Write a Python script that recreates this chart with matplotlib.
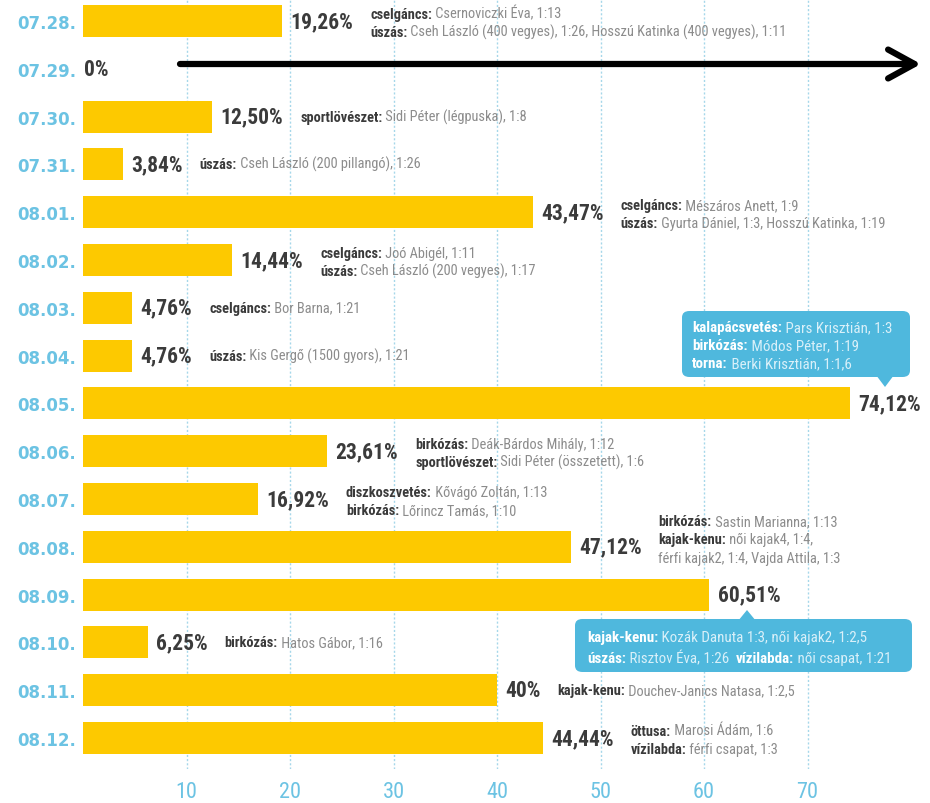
import matplotlib
matplotlib.use('Agg')
import matplotlib.pyplot as plt
from matplotlib.patches import FancyBboxPatch, Polygon

# ---------------- data ----------------
dates = ['07.28.', '07.29.', '07.30.', '07.31.', '08.01.', '08.02.', '08.03.', '08.04.',
         '08.05.', '08.06.', '08.07.', '08.08.', '08.09.', '08.10.', '08.11.', '08.12.']
values = [19.26, 0, 12.50, 3.84, 43.47, 14.44, 4.76, 4.76,
          74.12, 23.61, 16.92, 47.12, 60.51, 6.25, 40, 44.44]
value_labels = ['19,26%', '0%', '12,50%', '3,84%', '43,47%', '14,44%', '4,76%', '4,76%',
                '74,12%', '23,61%', '16,92%', '47,12%', '60,51%', '6,25%', '40%', '44,44%']
medal_notes = [
    ['**cselgáncs:** Csernoviczki Éva, 1:13',
     '**úszás:** Cseh László (400 vegyes), 1:26, Hosszú Katinka (400 vegyes), 1:11'],
    [],
    ['**sportlövészet:** Sidi Péter (légpuska), 1:8'],
    ['**úszás:** Cseh László (200 pillangó), 1:26'],
    ['**cselgáncs:** Mészáros Anett, 1:9',
     '**úszás:** Gyurta Dániel, 1:3, Hosszú Katinka, 1:19'],
    ['**cselgáncs:** Joó Abigél, 1:11',
     '**úszás:** Cseh László (200 vegyes), 1:17'],
    ['**cselgáncs:** Bor Barna, 1:21'],
    ['**úszás:** Kis Gergő (1500 gyors), 1:21'],
    [],
    ['**birkózás:** Deák-Bárdos Mihály, 1:12',
     '**sportlövészet:** Sidi Péter (összetett), 1:6'],
    ['**diszkoszvetés:** Kővágó Zoltán, 1:13',
     '**birkózás:** Lőrincz Tamás, 1:10'],
    ['**birkózás:** Sastin Marianna, 1:13',
     '**kajak-kenu:** női kajak4, 1:4,',
     'férfi kajak2, 1:4, Vajda Attila, 1:3'],
    [],
    ['**birkózás:** Hatos Gábor, 1:16'],
    ['**kajak-kenu:** Douchev-Janics Natasa, 1:2,5'],
    ['**öttusa:** Marosi Ádám, 1:6',
     '**vízilabda:** férfi csapat, 1:3'],
]
callout_0805 = ['**kalapácsvetés:** Pars Krisztián, 1:3',
                '**birkózás:** Módos Péter, 1:19',
                '**torna:** Berki Krisztián, 1:1,6']
callout_0809 = ['**kajak-kenu:** Kozák Danuta 1:3, női kajak2, 1:2,5',
                '**úszás:** Risztov Éva, 1:26  **vízilabda:** női csapat, 1:21']
x_ticks = [10, 20, 30, 40, 50, 60, 70]

# ---------------- style ----------------
W, H = 930, 804
BAR = '#fdc900'
BLUE = '#6cc3e3'
GRID = '#a6d7ea'
CALL = '#4fb8dd'
VAL_C = '#3b3b3b'
BOLD_C = '#3a3a3a'
REG_C = '#8c8c8c'
NARROW = ['Roboto Condensed', 'Roboto', 'DejaVu Sans']

fig = plt.figure(figsize=(W / 100, H / 100), dpi=100)
fig.patch.set_facecolor('white')
ax = fig.add_axes([83 / W, 34 / H, 847 / W, 770 / H])
ax.set_xlim(0, 847 / 10.35)
ax.set_ylim(15.65, -0.46)

y = list(range(len(dates)))
ax.barh(y, values, height=0.67, color=BAR, zorder=2)

ax.set_yticks(y)
ax.set_yticklabels(dates, color=BLUE, fontsize=12, fontweight='bold', family='DejaVu Sans')
ax.set_xticks(x_ticks)
ax.set_xticklabels([str(t) for t in x_ticks], color=BLUE, fontsize=16, family=NARROW)
ax.tick_params(axis='both', length=0)
ax.tick_params(axis='y', pad=5)
ax.tick_params(axis='x', pad=9)
for s in ax.spines.values():
    s.set_visible(False)
ax.set_axisbelow(True)
ax.grid(axis='x', color=GRID, linestyle=(0, (1.5, 1.5)), linewidth=1.0, zorder=0)


def segments(line):
    parts = line.split('**')
    return [(p, i % 2 == 1) for i, p in enumerate(parts) if p]


def draw_line(line, xy, xycoords, offset, bold_c, reg_c, fs):
    prev = None
    for txt, bold in segments(line):
        kw = dict(fontsize=fs, family=NARROW, color=bold_c if bold else reg_c,
                  fontweight='bold' if bold else 'normal', ha='left', zorder=8,
                  annotation_clip=False)
        if prev is None:
            prev = ax.annotate(txt, xy=xy, xycoords=xycoords, xytext=offset,
                               textcoords='offset points', va='center', **kw)
        else:
            prev = ax.annotate(txt, xy=(1, 0), xycoords=prev, va='bottom', **kw)


LINE_STEP = 13.3  # points between lines
for i, (v, lab, notes) in enumerate(zip(values, value_labels, medal_notes)):
    off = 6 if v > 0 else 1
    vt = ax.annotate(lab, xy=(v, i), xytext=(off, 0), textcoords='offset points',
                     ha='left', va='center', fontsize=15.5, fontweight='bold',
                     color=VAL_C, family=NARROW,
                     zorder=5, annotation_clip=False)
    n = len(notes)
    for k, line in enumerate(notes):
        if n == 1:
            dy = 0
        else:
            dy = -8 + (n - 1 - k) * LINE_STEP
        draw_line(line, (1, 0.5), vt, (12, dy), BOLD_C, REG_C, 10.4)


def fx(px):
    return px / W


def fy(py):
    return 1 - py / H


def callout(x0, y0, x1, y1, tip, base_y, lines, text_x, text_y0, step, fs):
    box = FancyBboxPatch((fx(x0), fy(y1)), fx(x1) - fx(x0), fy(y0) - fy(y1),
                         boxstyle='round,pad=0,rounding_size=0.008',
                         transform=fig.transFigure, facecolor=CALL, edgecolor='none',
                         zorder=6, clip_on=False)
    ax.add_patch(box)
    tx, ty = tip
    tri = Polygon([(fx(tx - 9), fy(base_y)), (fx(tx + 9), fy(base_y)), (fx(tx), fy(ty))],
                  closed=True, transform=fig.transFigure, facecolor=CALL,
                  edgecolor='none', zorder=6, clip_on=False)
    ax.add_patch(tri)
    for k, line in enumerate(lines):
        draw_line(line, (fx(text_x), fy(text_y0 + k * step)), 'figure fraction', (0, 0),
                  'white', '#d9f0f9', fs)


callout(682, 312, 910, 378, (885, 388), 376, callout_0805, 692, 328, 18, 10.8)
callout(575, 620, 912, 673, (747, 611), 622, callout_0809, 587, 638, 21, 10.8)

# big arrow
ax.annotate('', xy=(fx(921), fy(65)), xycoords='figure fraction',
            xytext=(fx(180), fy(65)), textcoords='figure fraction',
            arrowprops=dict(arrowstyle='->,head_length=0.95,head_width=0.52',
                            lw=4.5, color='black', mutation_scale=20,
                            shrinkA=0, shrinkB=0, capstyle='round', joinstyle='round'),
            annotation_clip=False, zorder=7)

fig.savefig('out.png', dpi=100, facecolor='white')
